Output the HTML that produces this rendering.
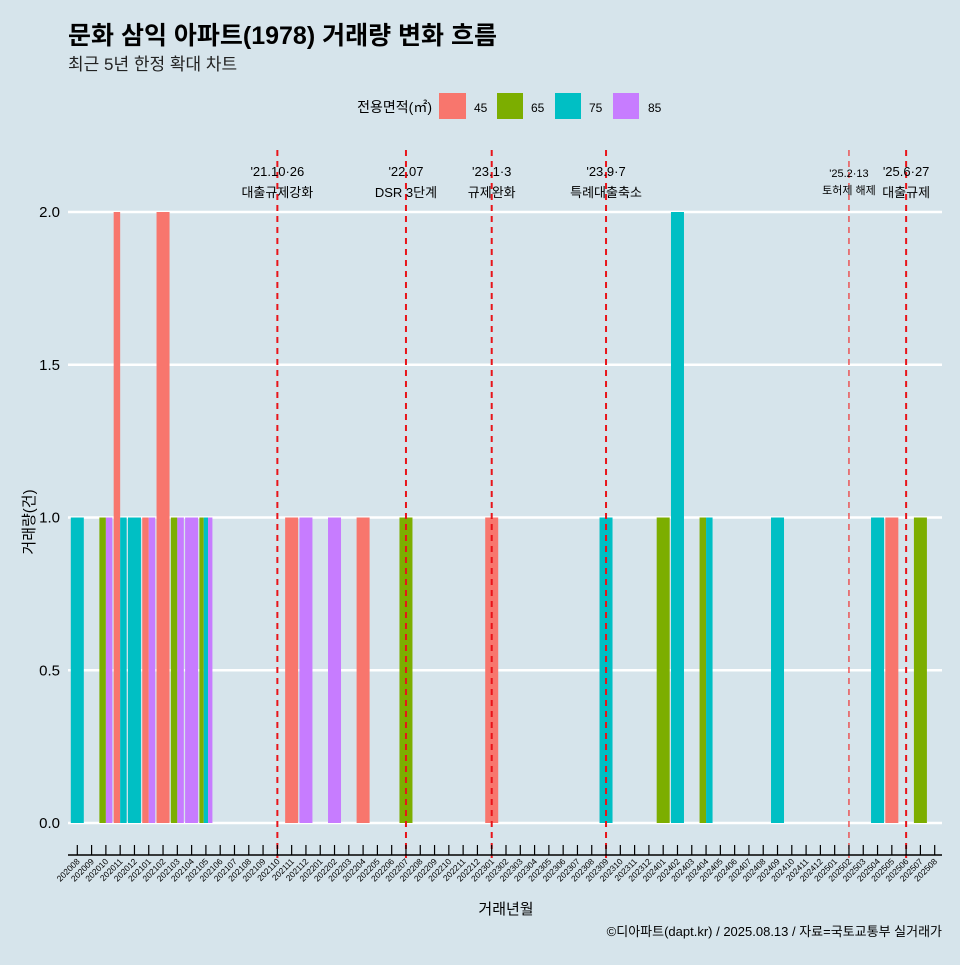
<!DOCTYPE html>
<html><head><meta charset="utf-8"><style>
body{margin:0;background:#d6e4eb;}
svg text{font-family:"Liberation Sans","Noto Sans CJK KR",sans-serif;}
</style></head><body>
<svg id="c" width="960" height="960" xmlns="http://www.w3.org/2000/svg">
<rect width="960" height="960" fill="#d6e4eb"/>
<text x="68" y="44" font-size="25" font-weight="bold" fill="#000">문화 삼익 아파트(1978) 거래량 변화 흐름</text>
<text x="68" y="70" font-size="17" fill="#222">최근 5년 한정 확대 차트</text>
<g>
<text x="432" y="112" font-size="14" text-anchor="end">전용면적(㎡)</text>
<rect x="439" y="93" width="27" height="26" fill="#f8766d"/><text x="474" y="112" font-size="12">45</text>
<rect x="497" y="93" width="26" height="26" fill="#7cae00"/><text x="531" y="112" font-size="12">65</text>
<rect x="555" y="93" width="26" height="26" fill="#00bfc4"/><text x="589" y="112" font-size="12">75</text>
<rect x="613" y="93" width="26" height="26" fill="#c77cff"/><text x="648" y="112" font-size="12">85</text>
</g>
<g id="grid"></g><g id="bars"></g><g id="vlines"></g><g id="axes"></g>
<text x="506" y="914" font-size="15" text-anchor="middle">거래년월</text>
<text transform="translate(34,522) rotate(-90)" font-size="15" text-anchor="middle">거래량(건)</text>
<text x="942" y="936" font-size="13" text-anchor="end">©디아파트(dapt.kr) / 2025.08.13 / 자료=국토교통부 실거래가</text>
</svg>
<script>
const months=[];for(let y=2020;y<=2025;y++)for(let m=1;m<=12;m++){const k=y*100+m;if(k>=202008&&k<=202508)months.push(String(k));}
const types=["45","65","75","85"];
const colors=["#f8766d","#7cae00","#00bfc4","#c77cff"];
const s45={"202011":2,"202101":1,"202102":2,"202111":1,"202204":1,"202301":1,"202505":1};
const s65={"202010":1,"202103":1,"202105":1,"202207":1,"202401":1,"202404":1,"202507":1};
const s75={"202008":1,"202011":1,"202012":1,"202105":1,"202309":1,"202402":2,"202404":1,"202409":1,"202504":1};
const s85={"202010":1,"202101":1,"202103":1,"202104":1,"202105":1,"202112":1,"202202":1};
const series=[s45,s65,s75,s85];
const yTicks=[0,0.5,1,1.5,2];
const yTickLabels=["0.0","0.5","1.0","1.5","2.0"];
const events=[{m:"202110",d:"'21.10·26",t:"대출규제강화"},{m:"202207",d:"'22.07",t:"DSR 3단계"},{m:"202301",d:"'23.1·3",t:"규제완화"},{m:"202309",d:"'23.9·7",t:"특례대출축소"},{m:"202502",d:"'25.2·13",t:"토허제 해제",thin:true},{m:"202506",d:"'25.6·27",t:"대출규제"}];
const NS="http://www.w3.org/2000/svg";
const x0=77.3,step=14.29,bw=13,L=68,R=942;
const xs=m=>x0+months.indexOf(m)*step;
const ys=v=>823-v*305.5;
function mk(tag,attrs,parent){const e=document.createElementNS(NS,tag);for(const k in attrs)e.setAttribute(k,attrs[k]);document.getElementById(parent).appendChild(e);return e;}
yTicks.forEach((v,i)=>{
 const l=mk("line",{x1:L,x2:R,y1:ys(v),y2:ys(v),stroke:"#fff","stroke-width":2.5},"grid");
 
 
 const t=mk("text",{x:60,y:ys(v)+5,"font-size":15,"text-anchor":"end"},"grid");t.textContent=yTickLabels[i];
 
 
});
months.forEach(m=>{
 const present=[];series.forEach((s,i)=>{if(s[m])present.push(i);});
 const w=bw/ (present.length||1);
 present.forEach((si,j)=>{
  const v=series[si][m];
  const r=mk("rect",{x:xs(m)-bw/2+j*w,y:ys(v),width:w,height:ys(0)-ys(v),fill:colors[si]},"bars");
  
  
 });
});
events.forEach(e=>{
 const x=xs(e.m);
 const l=mk("line",{x1:x,x2:x,y1:150,y2:858,stroke:e.thin?"#f03030":"#e8141a","stroke-width":e.thin?1.2:2,"stroke-dasharray":"6,5"},"vlines");
 
 
 const fs=e.thin?11:13;
 const a=mk("text",{x:x,y:e.thin?177:176,"font-size":fs,"text-anchor":"middle"},"vlines");a.textContent=e.d;
 
 
 const b=mk("text",{x:x,y:e.thin?194:197,"font-size":fs,"text-anchor":"middle"},"vlines");b.textContent=e.t;
 
 
});
const ax=mk("line",{x1:L,x2:R,y1:855,y2:855,stroke:"#000","stroke-width":1.5},"axes");


months.forEach(m=>{
 const x=xs(m);
 const t=mk("line",{x1:x,x2:x,y1:845,y2:855,stroke:"#000","stroke-width":1.2},"axes");
 
 
 const lb=mk("text",{transform:`translate(${x+3},862) rotate(-45)`,"font-size":8.5,"text-anchor":"end"},"axes");lb.textContent=m;
 
 
});
</script>
</body></html>
